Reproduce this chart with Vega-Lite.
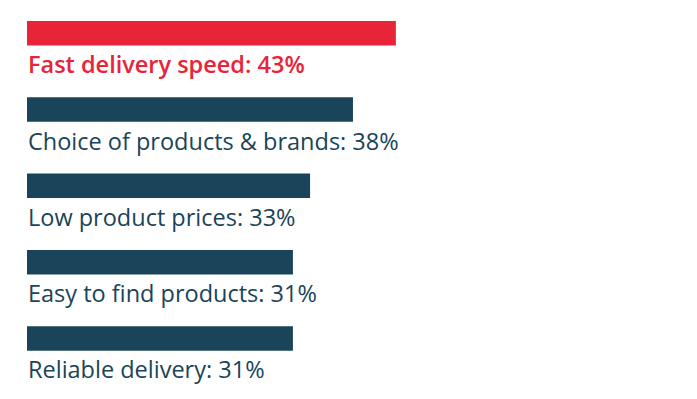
{
  "$schema": "https://vega.github.io/schema/vega-lite/v6.json",
  "autosize": "none",
  "width": 368,
  "height": 329.7,
  "padding": {"left": 27, "top": 21, "right": 302, "bottom": 48.3},
  "background": "white",
  "config": {"view": {"stroke": null}},
  "data": {"values": [
    {"label": "Fast delivery speed", "value": 43, "display": "Fast delivery speed: 43%", "group": "top"},
    {"label": "Choice of products & brands", "value": 38, "display": "Choice of products & brands: 38%", "group": "other"},
    {"label": "Low product prices", "value": 33, "display": "Low product prices: 33%", "group": "other"},
    {"label": "Easy to find products", "value": 31, "display": "Easy to find products: 31%", "group": "other"},
    {"label": "Reliable delivery", "value": 31, "display": "Reliable delivery: 31%", "group": "other"}
  ]},
  "encoding": {
    "y": {"field": "label", "type": "nominal", "sort": null, "axis": null,
          "scale": {"paddingInner": 0.679, "paddingOuter": 0}},
    "color": {"field": "group", "type": "nominal", "legend": null,
              "scale": {"domain": ["top", "other"], "range": ["#E92338", "#1A4459"]}}
  },
  "layer": [
    {
      "mark": {"type": "bar"},
      "encoding": {
        "x": {"field": "value", "type": "quantitative", "axis": null,
              "scale": {"domain": [0, 42.9], "nice": false, "zero": true}}
      }
    },
    {
      "transform": [{"filter": "datum.group === 'top'"}],
      "mark": {"type": "text", "align": "left", "baseline": "alphabetic", "dy": 40, "dx": 1,
               "font": "Open Sans", "fontSize": 23.5, "fontWeight": 600},
      "encoding": {
        "x": {"datum": 0, "type": "quantitative"},
        "text": {"field": "display", "type": "nominal"}
      }
    },
    {
      "transform": [{"filter": "datum.group !== 'top'"}],
      "mark": {"type": "text", "align": "left", "baseline": "alphabetic", "dy": 40, "dx": 1,
               "font": "Open Sans", "fontSize": 23.5, "fontWeight": "normal"},
      "encoding": {
        "x": {"datum": 0, "type": "quantitative"},
        "text": {"field": "display", "type": "nominal"}
      }
    }
  ]
}
